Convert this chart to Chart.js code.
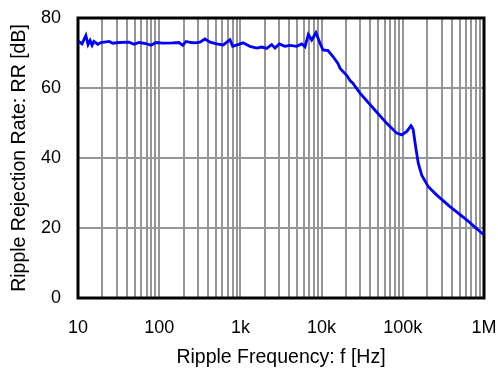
<!DOCTYPE html>
<html>
<head>
<meta charset="utf-8">
<script src="https://cdn.jsdelivr.net/npm/chart.js@4"></script>
<style>
  html, body { margin: 0; padding: 0; background: #fff; }
  #wrap { width: 498px; height: 369px; }
</style>
</head>
<body>
<div id="wrap"><canvas id="rr-chart"></canvas></div>
<script>
// ripple rejection vs. frequency
const freqHz = [10.2, 11.2, 12.5, 13.3, 14.1, 14.9, 15.7, 17.5, 19.2, 24.3, 26.7, 32, 42.5, 49, 56.4, 68.7, 79.2, 91.4,
  110, 147, 175, 195, 214, 247, 276, 318, 366, 423, 511, 615, 744, 803, 934, 1076, 1312, 1588, 1829, 2108, 2429,
  2668, 3013, 3540, 4080, 4936, 5688, 6250, 6860, 7550, 8530, 9560, 10400, 12000, 13800, 15900, 16900, 20600,
  22400, 24400, 29700, 43300, 63400, 84100, 97000, 112000, 126000, 134000, 146000, 155000, 171000, 206000,
  262000, 381000, 612000, 1000000];
const rrDb = [73.3, 72.6, 75.0, 72.4, 73.6, 72.2, 73.3, 72.5, 73.0, 73.3, 72.8, 73.0, 73.1, 72.5, 73.0, 72.7, 72.2, 73.0,
  72.8, 72.9, 73.0, 72.2, 73.3, 73.0, 72.9, 73.1, 74.0, 73.1, 72.6, 72.3, 73.8, 71.9, 72.4, 72.9, 71.9, 71.4, 71.7, 71.3, 72.4,
  71.4, 72.6, 71.9, 72.2, 71.9, 72.6, 71.8, 75.3, 73.7, 75.8, 72.8, 70.9, 70.7, 69.0, 67.0, 65.6, 63.5,
  62.1, 61.3, 58.5, 54.2, 49.9, 47.1, 46.6, 47.6, 49.2, 48.2, 42.3, 38.5, 35.1, 31.8,
  29.4, 26.1, 22.3, 18.0];

const decadeTicks = [10, 100, 1000, 10000, 100000, 1000000];
const decadeLabels = ['10', '100', '1k', '10k', '100k', '1M'];
const minorSteps = [2, 3, 4, 5, 6, 7, 8, 9];
const yTicks = [0, 20, 40, 60, 80];

const FONT = 'Liberation Sans, Arial, sans-serif';

// every grid line on the log axis: decades plus 2..9 multiples
const xGrid = [];
decadeTicks.forEach((d, i) => {
    xGrid.push(d);
    if (i < decadeTicks.length - 1) minorSteps.forEach(m => xGrid.push(d * m));
});

// black frame around the plot area
const frame = {
    id: 'frame',
    beforeDatasetsDraw(chart) {
        const { ctx, chartArea: a } = chart;
        ctx.save();
        ctx.strokeStyle = '#000';
        ctx.lineWidth = 3;
        ctx.strokeRect(a.left, a.top, a.right - a.left, a.bottom - a.top);
        ctx.restore();
    }
};

new Chart(document.getElementById('rr-chart'), {
    type: 'line',
    data: {
        datasets: [{
            data: freqHz.map((f, i) => ({ x: f, y: rrDb[i] })),
            borderColor: '#0000ff',
            borderWidth: 2.8,
            pointRadius: 0,
            tension: 0,
            fill: false
        }]
    },
    options: {
        responsive: true,
        maintainAspectRatio: false,
        animation: false,
        layout: { padding: { top: 18, right: 14, left: 0, bottom: 0 } },
        plugins: { legend: { display: false }, tooltip: { enabled: false } },
        scales: {
            x: {
                type: 'logarithmic',
                min: 10,
                max: 1000000,
                afterBuildTicks: s => { s.ticks = xGrid.map(v => ({ value: v })); },
                afterFit: s => {
                    s.height = 71;
                    s.paddingLeft = 0;
                    s.paddingRight = 0;
                },
                grid: { color: '#969696', lineWidth: 2, drawTicks: false },
                border: { display: false },
                ticks: {
                    autoSkip: false,
                    maxRotation: 0,
                    padding: 19,
                    color: '#000',
                    font: { family: FONT, size: 18 },
                    callback: v => {
                        const i = decadeTicks.indexOf(v);
                        return i >= 0 ? decadeLabels[i] : '';
                    }
                },
                title: {
                    display: true,
                    text: 'Ripple Frequency: f [Hz]',
                    color: '#000',
                    font: { family: FONT, size: 19.5 },
                    padding: { top: 0, bottom: 0 }
                }
            },
            y: {
                min: 0,
                max: 80,
                afterBuildTicks: s => { s.ticks = yTicks.map(v => ({ value: v })); },
                afterFit: s => {
                    s.width = 78;
                    s.paddingTop = 0;
                    s.paddingBottom = 0;
                },
                grid: { color: '#969696', lineWidth: 2, drawTicks: false },
                border: { display: false },
                ticks: {
                    padding: 17,
                    color: '#000',
                    font: { family: FONT, size: 18 }
                },
                title: {
                    display: true,
                    text: 'Ripple Rejection Rate: RR [dB]',
                    color: '#000',
                    font: { family: FONT, size: 19.5 },
                    padding: { top: 8, bottom: 0 }
                }
            }
        }
    },
    plugins: [frame]
});
</script>
</body>
</html>
